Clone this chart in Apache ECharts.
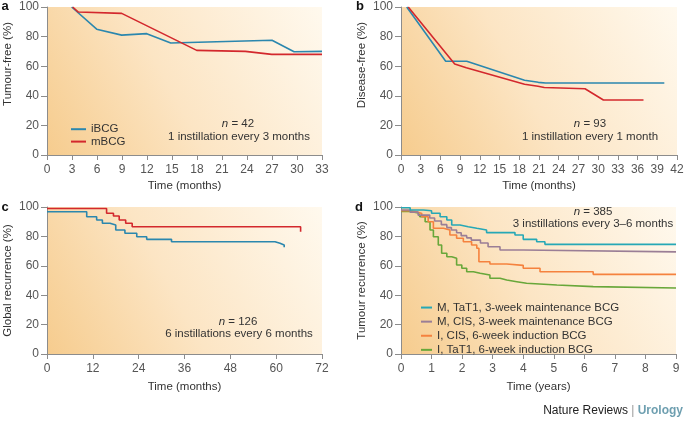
<!DOCTYPE html>
<html><head><meta charset="utf-8">
<script src="https://cdn.jsdelivr.net/npm/echarts/dist/echarts.min.js"></script>
<style>html,body{margin:0;padding:0;background:#fff}#c{width:685px;height:423px}</style>
</head><body><div id="c"></div>
<script>
// ---------- Panel a : Tumour-free (%) vs Time (months) ----------
const aIBCGTime = [2.96, 5.96, 8.96, 11.97, 14.85, 27, 29.65, 33];
const aIBCGVal  = [100, 85, 81, 82, 75.7, 77.5, 69.8, 70];
const aMBCGTime = [3.08, 3.76, 8.96, 17.97, 23.8, 26.97, 33];
const aMBCGVal  = [100, 96.6, 95.7, 70.7, 70, 68, 68];
// ---------- Panel b : Disease-free (%) ----------
const bIBCGTime = [0.87, 6.8, 10.0, 18.8, 20.9, 22, 40.07];
const bIBCGVal  = [100, 63.3, 63.3, 50.5, 49.1, 48.6, 48.6];
const bMBCGTime = [1.1, 8.17, 9.94, 18.8, 20.85, 21.8, 28, 30.8, 36.9];
const bMBCGVal  = [100, 61.5, 59, 47.8, 46.4, 45.6, 44.8, 37.2, 37.2];
// ---------- Panel c : Global recurrence (%) (step curves) ----------
const cMBCGTime = [0, 15.6, 17.4, 18.9, 20.6, 22.3, 66.4];
const cMBCGVal  = [99, 95.7, 93.9, 91.2, 88.9, 86.6, 83.2];
const cIBCGTime = [0, 10.4, 13, 14.5, 16.5, 18, 20.4, 23.5, 26.1, 32.6, 59.7, 61, 62.1];
const cIBCGVal  = [96.8, 93.4, 91.2, 88.9, 87.8, 84.4, 82.1, 79.8, 78, 76.4, 75.3, 74.1, 72.6];
// ---------- Panel d : Tumour recurrence (%) vs Time (years) ----------
const dNames = ['M, TaT1, 3-week maintenance BCG', 'M, CIS, 3-week maintenance BCG',
                'I, CIS, 6-week induction BCG', 'I, TaT1, 6-week induction BCG'];
const dMTaT1Time = [0, 0.3, 0.73, 1.0, 1.28, 1.5, 1.66, 1.93, 2.2, 2.48, 2.8, 3.73, 4.0, 4.44, 4.71, 9];
const dMTaT1Val  = [99.5, 98, 97.5, 95.7, 93.4, 91.2, 87.8, 86.6, 85.5, 84.4, 82.6, 81, 78, 76.4, 74.6, 74.6];
const dMCISTime  = [0, 0.3, 0.56, 0.94, 1.1, 1.32, 1.5, 1.65, 1.82, 1.97, 2.15, 2.3, 2.6, 2.85, 3.24, 4.0, 9];
const dMCISVal   = [98, 96.5, 94.5, 92.5, 90.5, 88, 86, 84.4, 82.5, 80.5, 79, 77.5, 75.5, 73, 70.7, 69.5, 69.5];
const dICISTime  = [0, 0.3, 0.51, 0.68, 0.89, 1.06, 1.39, 1.6, 1.82, 2.04, 2.31, 2.48, 2.55, 2.91, 3.46, 4.0, 4.55, 6.29, 9];
const dICISVal   = [97.5, 96.8, 95.5, 93.4, 90, 85.5, 84.4, 81, 78.7, 76.4, 74.1, 71.9, 62.8, 61.2, 60.3, 58.3, 56, 54.2, 54.2];
const dITaT1Time = [0, 0.3, 0.57, 0.62, 0.79, 0.95, 1.06, 1.22, 1.33, 1.5, 1.66, 1.82, 1.99, 2.15, 2.37, 2.59, 2.91, 3.24, 3.46, 3.79, 4.11, 5.1, 6.29, 9];
const dITaT1Val  = [97, 96, 95.7, 93.4, 90, 84.4, 79.8, 74.1, 68.5, 66.2, 65.1, 60.5, 58.3, 56, 54.9, 53.7, 51.5, 50.3, 49.2, 48.1, 46.9, 45.8, 44.9, 44.9];

const FONT = 'Liberation Sans';
const BLUE = '#2b87ae', RED = '#d3282d';
const D_COLORS = ['#26a8b6', '#9a7e96', '#f5823e', '#68a73a'];

const zip = (t, v) => t.map((x, i) => [x, v[i]]);
const bg = new echarts.graphic.LinearGradient(0, 1, 1, 0, [
  {offset: 0, color: '#f6cc8e'}, {offset: 0.45, color: '#fce5c4'}, {offset: 1, color: '#fff9ee'}]);

function grid(left, top, width, height) {
  return {left, top, width, height, show: true, borderWidth: 0, backgroundColor: bg,
          containLabel: false, outerBoundsMode: 'none'};
}
function xAxis(idx, max, interval, name, gap) {
  return {type: 'value', gridIndex: idx, min: 0, max, interval, name,
    nameLocation: 'middle', nameGap: gap,
    nameTextStyle: {fontFamily: FONT, fontSize: 11.5, color: '#333'},
    axisLine: {show: true, lineStyle: {color: '#8c8c8c', width: 1}},
    axisTick: {show: true, length: 5, lineStyle: {color: '#8c8c8c'}},
    axisLabel: {fontFamily: FONT, fontSize: 12, color: '#555', margin: 9, showMinLabel: true, showMaxLabel: true},
    splitLine: {show: false}};
}
function yAxis(idx, name, padL) {
  return {type: 'value', gridIndex: idx, min: 0, max: 100, interval: 20, name,
    nameLocation: 'middle', nameGap: 33,
    nameTextStyle: {fontFamily: FONT, fontSize: 11.5, color: '#333', padding: [0, 0, 0, padL]},
    axisLine: {show: true, lineStyle: {color: '#8c8c8c', width: 1}},
    axisTick: {show: true, length: 6, lineStyle: {color: '#8c8c8c'}},
    axisLabel: {fontFamily: FONT, fontSize: 12, color: '#555', margin: 8},
    splitLine: {show: false}};
}
function line(name, idx, data, color, step) {
  return {type: 'line', name, xAxisIndex: idx, yAxisIndex: idx, data, step: step || false,
    symbol: 'none', lineStyle: {color, width: 1.6}, itemStyle: {color}, silent: true, z: 3};
}
function txt(x, y, text, extra) {
  return Object.assign({type: 'text', x, y, style: Object.assign({text, fontFamily: FONT, fontSize: 11.5,
    fill: '#333', align: 'center', verticalAlign: 'middle'}, extra || {})}, {});
}
const rich = {i: {fontStyle: 'italic', fontFamily: FONT, fontSize: 11.5, fill: '#333'}};

const chart = echarts.init(document.getElementById('c'), null, {renderer: 'canvas'});
chart.setOption({
  animation: false,
  backgroundColor: '#fff',
  grid: [grid(47, 7, 275, 148), grid(401, 7, 276, 148), grid(47, 207, 275, 147), grid(401, 207, 275, 147)],
  xAxis: [xAxis(0, 33, 3, 'Time (months)', 25), xAxis(1, 42, 3, 'Time (months)', 25),
          xAxis(2, 72, 12, 'Time (months)', 27), xAxis(3, 9, 1, 'Time (years)', 27)],
  yAxis: [yAxis(0, 'Tumour-free (%)', 34), yAxis(1, 'Disease-free (%)', 32),
          yAxis(2, 'Global recurrence (%)', 0), yAxis(3, 'Tumour recurrence (%)', 0)],
  legend: [
    {data: ['iBCG', 'mBCG'], orient: 'vertical', left: 66, top: 118, icon: 'rect',
     itemWidth: 15, itemHeight: 2, itemGap: 0, selectedMode: false,
     textStyle: {fontFamily: FONT, fontSize: 11.5, color: '#333', lineHeight: 12.4}},
    {data: dNames, orient: 'vertical', left: 416, top: 295.5, icon: 'rect',
     itemWidth: 11, itemHeight: 2, itemGap: 0, selectedMode: false,
     textStyle: {fontFamily: FONT, fontSize: 11.5, color: '#333', lineHeight: 14.1}}
  ],
  series: [
    line('iBCG', 0, zip(aIBCGTime, aIBCGVal), BLUE),
    line('mBCG', 0, zip(aMBCGTime, aMBCGVal), RED),
    line('iBCG', 1, zip(bIBCGTime, bIBCGVal), BLUE),
    line('mBCG', 1, zip(bMBCGTime, bMBCGVal), RED),
    line('mBCG', 2, zip(cMBCGTime, cMBCGVal), RED, 'end'),
    line('iBCG', 2, zip(cIBCGTime, cIBCGVal), BLUE, 'end'),
    line(dNames[3], 3, zip(dITaT1Time, dITaT1Val), D_COLORS[3], 'end'),
    line(dNames[2], 3, zip(dICISTime, dICISVal), D_COLORS[2], 'end'),
    line(dNames[1], 3, zip(dMCISTime, dMCISVal), D_COLORS[1], 'end'),
    line(dNames[0], 3, zip(dMTaT1Time, dMTaT1Val), D_COLORS[0], 'end')
  ],
  graphic: [
    txt(5, 6, 'a', {fontWeight: 'bold', fontSize: 13, fill: '#111'}),
    txt(360, 6, 'b', {fontWeight: 'bold', fontSize: 13, fill: '#111'}),
    txt(5, 207, 'c', {fontWeight: 'bold', fontSize: 13, fill: '#111'}),
    txt(359, 207, 'd', {fontWeight: 'bold', fontSize: 13, fill: '#111'}),
    txt(238, 124, '{i|n} = 42', {rich}),
    txt(239, 136.5, '1 instillation every 3 months'),
    txt(590, 124, '{i|n} = 93', {rich}),
    txt(590, 136.5, '1 instillation every 1 month'),
    txt(238, 322, '{i|n} = 126', {rich}),
    txt(239, 334, '6 instillations every 6 months'),
    txt(593, 212, '{i|n} = 385', {rich}),
    txt(593, 224, '3 instillations every 3\u20136 months'),
    {type: 'text', right: 2, top: 405, style: {
      text: '{a|Nature Reviews} {s||} {b|Urology}', fontFamily: FONT,
      rich: {a: {fontFamily: FONT, fontSize: 12, fill: '#222'},
             s: {fontFamily: FONT, fontSize: 12, fill: '#999'},
             b: {fontFamily: FONT, fontSize: 12, fontWeight: 'bold', fill: '#6e9fb0'}}}}
  ]
});
</script></body></html>
